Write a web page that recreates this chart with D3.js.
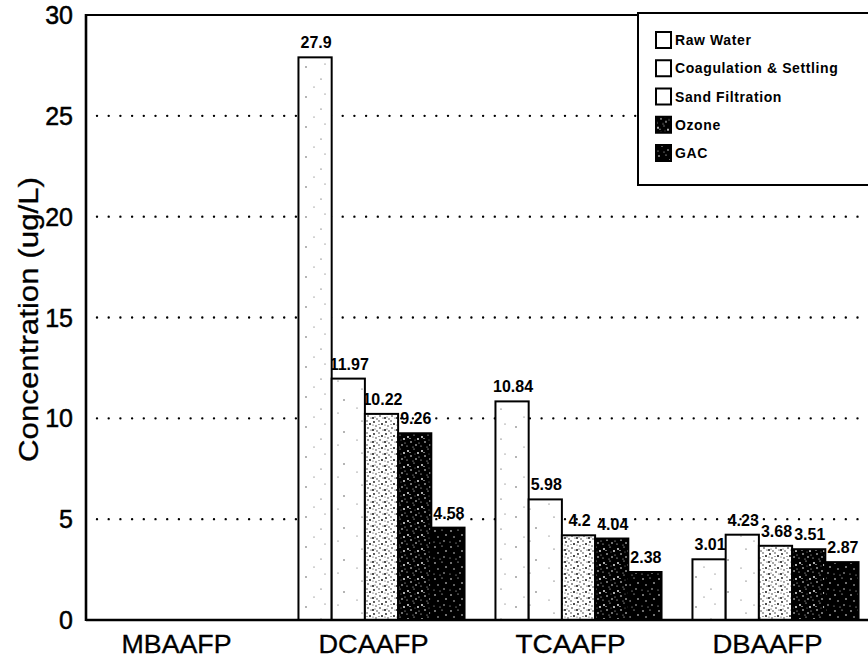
<!DOCTYPE html>
<html>
<head>
<meta charset="utf-8">
<script src="https://cdn.jsdelivr.net/npm/d3@7"></script>
<style>
  html, body { margin: 0; padding: 0; background: #fff; }
  svg { display: block; font-family: "Liberation Sans", Arial, Helvetica, sans-serif; }
</style>
</head>
<body>
<div id="chart"></div>
<script>
// Haloacetic acid formation potential through the treatment train
const categories = ["MBAAFP", "DCAAFP", "TCAAFP", "DBAAFP"];
const seriesNames = ["Raw Water", "Coagulation & Settling", "Sand Filtration", "Ozone", "GAC"];
const rawWater       = [null, 27.9, 10.84, 3.01];
const coagulation    = [null, 11.97, 5.98, 4.23];
const sandFiltration = [null, 10.22, 4.2, 3.68];
const ozone          = [null, 9.26, 4.04, 3.51];
const gac            = [null, 4.58, 2.38, 2.87];
const yTicks = [0, 5, 10, 15, 20, 25, 30];
const gridTicks = [5, 10, 15, 20, 25];
const yLabel = "Concentration (ug/L)";

const seriesValues = [rawWater, coagulation, sandFiltration, ozone, gac];

const W = 868, H = 664;
const svg = d3.select("#chart").append("svg").attr("width", W).attr("height", H);

// ---- fill textures for each treatment step ----
const defs = svg.append("defs");
function dotPattern(id, size, bg, fg, dots) {
  const p = defs.append("pattern").attr("id", id)
    .attr("patternUnits", "userSpaceOnUse").attr("width", size).attr("height", size);
  p.append("rect").attr("width", size).attr("height", size).attr("fill", bg);
  p.selectAll("circle").data(dots).join("circle")
    .attr("cx", d => d[0]).attr("cy", d => d[1]).attr("r", d => d[2]).attr("fill", fg);
}
dotPattern("fill-raw", 30, "#fff", "#333",
  [[6, 7, 0.7], [21, 19, 0.6], [14, 27, 0.5], [25, 4, 0.5]]);
dotPattern("fill-coag", 32, "#fff", "#333",
  [[10, 5, 0.6], [24, 16, 0.7], [5, 24, 0.5], [18, 29, 0.5]]);
dotPattern("fill-sand", 12, "#fff", "#111",
  [[2, 2, 0.9], [7, 1, 0.7], [10, 4, 1.0], [4, 6, 0.7], [8, 8, 0.8], [11, 10, 0.6],
   [1, 10, 1.0], [5, 11, 0.7], [3, 9, 0.5], [7, 4.5, 0.5], [1, 5, 0.5]]);
dotPattern("fill-ozone", 14, "#000", "#fff",
  [[2, 3, 0.9], [8, 1, 0.6], [12, 5, 0.9], [5, 8, 0.8], [10, 11, 0.8],
   [1, 12, 0.6], [7, 13, 0.5], [13, 9, 0.5], [4, 4.5, 0.6], [9, 6, 0.4]]);
dotPattern("fill-gac", 16, "#000", "#fff",
  [[3, 3, 0.8], [10, 2, 0.6], [14, 7, 0.8], [6, 9, 0.7], [12, 13, 0.7],
   [2, 14, 0.5], [8, 15, 0.5]]);
const fills = ["url(#fill-raw)", "url(#fill-coag)", "url(#fill-sand)", "url(#fill-ozone)", "url(#fill-gac)"];
const swatchFills = ["#fff", "#fff", "#fff", "url(#fill-ozone)", "url(#fill-gac)"];

// ---- scales ----
const y = d3.scaleLinear().domain([0, 30]).range([620, 15]);
const x0 = d3.scaleBand().domain(categories).range([86, 874])
  .paddingInner(0.157).paddingOuter(0.0785);
const x1 = d3.scaleBand().domain(seriesNames).range([0, x0.bandwidth()]);

// ---- dotted gridlines ----
svg.append("g").selectAll("line").data(gridTicks).join("line")
  .attr("x1", 97).attr("x2", 868)
  .attr("y1", d => y(d)).attr("y2", d => y(d))
  .attr("stroke", "#000").attr("stroke-width", 2.4)
  .attr("stroke-linecap", "round").attr("stroke-dasharray", "0 11.7");

// ---- flattened bar records ----
const records = [];
categories.forEach((c, ci) => {
  seriesNames.forEach((s, si) => {
    const v = seriesValues[si][ci];
    if (v != null) records.push({ cat: c, series: s, si, value: v });
  });
});

// value labels sit beneath the bars so neighbouring bars can overlap them
svg.append("g").selectAll("text").data(records).join("text")
  .attr("x", d => x0(d.cat) + x1(d.series) + x1.bandwidth() / 2 + 1)
  .attr("y", d => y(d.value) - 9)
  .attr("text-anchor", "middle")
  .attr("font-size", 16).attr("font-weight", "bold")
  .text(d => d.value);

svg.append("g").selectAll("rect").data(records).join("rect")
  .attr("x", d => x0(d.cat) + x1(d.series))
  .attr("y", d => y(d.value))
  .attr("width", x1.bandwidth())
  .attr("height", d => y(0) - y(d.value))
  .attr("fill", d => fills[d.si])
  .attr("stroke", "#000").attr("stroke-width", 2);

// ---- frame / axes ----
svg.append("line").attr("x1", 86).attr("x2", 870).attr("y1", y(30)).attr("y2", y(30))
  .attr("stroke", "#000").attr("stroke-width", 2);
svg.append("line").attr("x1", 86).attr("x2", 870).attr("y1", y(0)).attr("y2", y(0))
  .attr("stroke", "#000").attr("stroke-width", 2.6);
svg.append("line").attr("x1", 86).attr("x2", 86).attr("y1", y(30) - 1).attr("y2", y(0) + 1)
  .attr("stroke", "#000").attr("stroke-width", 2.6);

// y tick labels
svg.append("g").selectAll("text").data(yTicks).join("text")
  .attr("x", 73).attr("y", d => y(d)).attr("dy", "0.36em")
  .attr("text-anchor", "end").attr("font-size", 25)
  .attr("stroke", "#000").attr("stroke-width", 0.5)
  .text(d => d);

// category labels
svg.append("g").selectAll("text").data(categories).join("text")
  .attr("x", d => x0(d) + x0.bandwidth() / 2 - 8)
  .attr("y", 653)
  .attr("text-anchor", "middle").attr("font-size", 25)
  .attr("stroke", "#000").attr("stroke-width", 0.3)
  .attr("textLength", 110).attr("lengthAdjust", "spacingAndGlyphs")
  .text(d => d);

// y axis title
svg.append("text")
  .attr("transform", `translate(38, ${(y(0) + y(30)) / 2 + 2}) rotate(-90)`)
  .attr("text-anchor", "middle").attr("font-size", 27)
  .attr("stroke", "#000").attr("stroke-width", 0.3)
  .attr("textLength", 285).attr("lengthAdjust", "spacingAndGlyphs")
  .text(yLabel);

// ---- legend ----
const legend = svg.append("g");
legend.append("rect").attr("x", 638).attr("y", 13).attr("width", 240).attr("height", 172)
  .attr("fill", "#fff").attr("stroke", "#000").attr("stroke-width", 2);
const rowY = d3.scalePoint().domain(seriesNames).range([40, 153]);
const rows = legend.selectAll("g.row").data(seriesNames).join("g").attr("class", "row")
  .attr("transform", d => `translate(656, ${rowY(d)})`);
rows.append("rect").attr("x", 0).attr("y", -8).attr("width", 15).attr("height", 16)
  .attr("fill", (d, i) => swatchFills[i]).attr("stroke", "#000").attr("stroke-width", 2);
rows.append("text").attr("x", 19).attr("y", 5)
  .attr("font-size", 14).attr("font-weight", "bold").attr("letter-spacing", 0.6)
  .text(d => d);
</script>
</body>
</html>
